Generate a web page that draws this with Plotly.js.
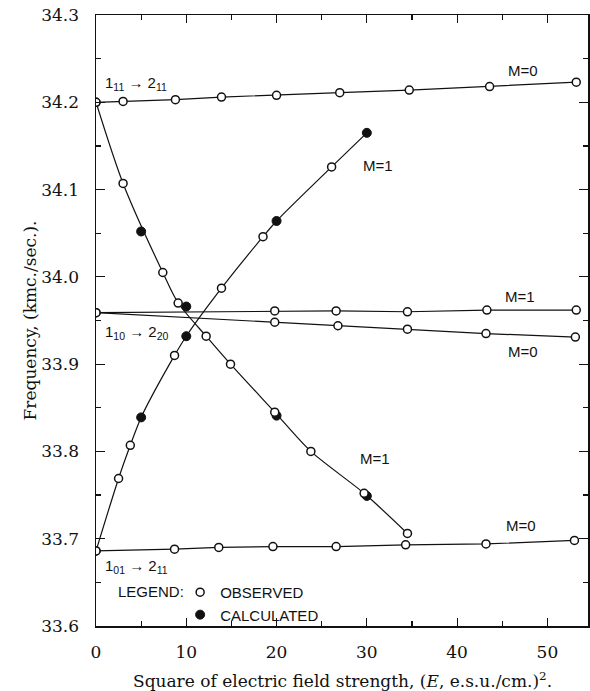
<!DOCTYPE html>
<html>
<head>
<meta charset="utf-8">
<script src="https://cdn.plot.ly/plotly-3.0.1.min.js"></script>
<style>html,body{margin:0;padding:0;background:#fff;}#chart{width:590px;height:691px;}</style>
</head>
<body>
<div id="chart"></div>
<script>
// 1_11 -> 2_11, M=0 (observed)
const topM0X = [0, 3.0, 8.8, 13.9, 20.0, 27.0, 34.7, 43.6, 53.2];
const topM0Y = [34.200, 34.201, 34.203, 34.206, 34.208, 34.211, 34.214, 34.218, 34.223];
// 1_10 -> 2_20, M=1 (observed)
const midM1X = [0, 19.8, 26.6, 34.5, 43.3, 53.2];
const midM1Y = [33.959, 33.961, 33.961, 33.960, 33.962, 33.962];
// 1_10 -> 2_20, M=0 (observed)
const midM0X = [0, 19.8, 26.8, 34.5, 43.2, 53.1];
const midM0Y = [33.959, 33.948, 33.944, 33.940, 33.935, 33.931];
// 1_01 -> 2_11, M=0 (observed)
const botM0X = [0, 8.7, 13.6, 19.6, 26.6, 34.3, 43.2, 53.0];
const botM0Y = [33.686, 33.688, 33.690, 33.691, 33.691, 33.693, 33.694, 33.698];
// descending M=1 curve
const descObsX = [0, 3.0, 7.4, 9.1, 12.2, 14.9, 19.8, 23.8, 29.7, 34.5];
const descObsY = [34.200, 34.107, 34.005, 33.970, 33.932, 33.900, 33.845, 33.800, 33.752, 33.706];
const descCalcX = [5, 10, 20, 30];
const descCalcY = [34.052, 33.966, 33.841, 33.749];
// ascending M=1 curve
const ascObsX = [0, 2.5, 3.8, 8.7, 13.9, 18.5, 26.1];
const ascObsY = [33.686, 33.769, 33.807, 33.910, 33.987, 34.046, 34.126];
const ascCalcX = [5, 10, 20, 30];
const ascCalcY = [33.839, 33.932, 34.064, 34.165];

// ascending line passes through observed and calculated points
const ascLine = ascObsX.map((x, i) => [x, ascObsY[i]])
  .concat(ascCalcX.map((x, i) => [x, ascCalcY[i]]))
  .sort((a, b) => a[0] - b[0]);

const lineStyle = {color: '#111', width: 1.2};
const openMarker = {symbol: 'circle', size: 8, color: '#fff', line: {color: '#111', width: 1.5}};
const fillMarker = {symbol: 'circle', size: 9, color: '#111', line: {color: '#111', width: 1}};

function lineTrace(x, y, shape) {
  return {x: x, y: y, mode: 'lines', line: Object.assign({shape: shape || 'linear', smoothing: 0.8}, lineStyle),
          showlegend: false, hoverinfo: 'skip'};
}
function obsTrace(x, y, show) {
  return {x: x, y: y, mode: 'markers', marker: openMarker, name: 'OBSERVED', legendgroup: 'obs',
          showlegend: !!show};
}
function calcTrace(x, y, show) {
  return {x: x, y: y, mode: 'markers', marker: fillMarker, name: 'CALCULATED', legendgroup: 'calc',
          showlegend: !!show};
}

const traces = [
  lineTrace(topM0X, topM0Y),
  lineTrace(midM1X, midM1Y),
  lineTrace(midM0X, midM0Y),
  lineTrace(botM0X, botM0Y),
  lineTrace(descObsX, descObsY, 'spline'),
  lineTrace(ascLine.map(p => p[0]), ascLine.map(p => p[1]), 'spline'),
  calcTrace(descCalcX, descCalcY, false),
  calcTrace(ascCalcX, ascCalcY, false),
  obsTrace(topM0X, topM0Y, true),
  obsTrace(midM1X, midM1Y),
  obsTrace(midM0X, midM0Y),
  obsTrace(botM0X, botM0Y),
  obsTrace(descObsX, descObsY),
  obsTrace(ascObsX, ascObsY),
  {x: [null], y: [null], mode: 'markers', marker: fillMarker, name: 'CALCULATED', showlegend: true}
];

const sans = 'Liberation Sans, Arial, sans-serif';
const serif = 'DejaVu Serif, serif';
const labelFont = {family: sans, size: 15, color: '#111'};
function lab(x, y, text, anchor) {
  return {x: x, y: y, xref: 'x', yref: 'y', text: text, showarrow: false, font: labelFont,
          xanchor: anchor || 'center', yanchor: 'middle'};
}
const annotations = [
  lab(0.8, 34.222, '1<sub>11</sub> → 2<sub>11</sub>', 'left'),
  lab(47.3, 34.236, 'M=0'),
  lab(29.3, 34.128, 'M=1', 'left'),
  lab(47.0, 33.978, 'M=1'),
  lab(47.3, 33.915, 'M=0'),
  lab(0.8, 33.936, '1<sub>10</sub> → 2<sub>20</sub>', 'left'),
  lab(29.0, 33.792, 'M=1', 'left'),
  lab(47.1, 33.715, 'M=0'),
  lab(0.8, 33.668, '1<sub>01</sub> → 2<sub>11</sub>', 'left'),
  {x: 0.04, y: 0.057, xref: 'paper', yref: 'paper', text: 'LEGEND:', showarrow: false,
   font: {family: sans, size: 15, color: '#111'}, xanchor: 'left', yanchor: 'middle'},
  {x: 0.5, y: -0.0884, xref: 'paper', yref: 'paper', showarrow: false, xanchor: 'center', yanchor: 'middle',
   text: 'Square of electric field strength, (<i>E</i>, e.s.u./cm.)<sup>2</sup>.',
   font: {family: serif, size: 17, color: '#111'}}
];

const layout = {
  width: 590, height: 691,
  margin: {l: 96, r: 2, t: 15, b: 65},
  paper_bgcolor: '#fff', plot_bgcolor: '#fff',
  font: {family: serif, size: 17, color: '#111'},
  xaxis: {
    range: [0, 54.5], tickvals: [0, 10, 20, 30, 40, 50], ticks: 'inside', ticklen: 8, tickwidth: 1.2,
    tickcolor: '#111', showline: true, linecolor: '#111', linewidth: 1.5, mirror: 'ticks',
    showgrid: false, zeroline: false, ticklabelstandoff: 10,
    minor: {dtick: 5, tick0: 0, ticks: 'inside', ticklen: 5, tickcolor: '#111', showgrid: false}
  },
  yaxis: {
    range: [33.6, 34.3], dtick: 0.1, tick0: 33.6, tickformat: '.1f', ticks: 'inside', ticklen: 9,
    tickwidth: 1.2, tickcolor: '#111', showline: true, linecolor: '#111', linewidth: 1.5, mirror: 'ticks',
    showgrid: false, zeroline: false, ticklabelstandoff: 12,
    minor: {dtick: 0.05, tick0: 33.6, ticks: 'inside', ticklen: 5, tickcolor: '#111', showgrid: false},
    title: {text: 'Frequency, (kmc./sec.).', font: {family: serif, size: 17}, standoff: 0}
  },
  showlegend: true,
  legend: {
    x: 0.171, y: 0.082, xanchor: 'left', yanchor: 'top', bgcolor: 'rgba(0,0,0,0)',
    font: {family: sans, size: 15, color: '#111'},
    itemwidth: 30, tracegroupgap: 0, traceorder: 'normal'
  },
  annotations: annotations
};

Plotly.newPlot('chart', traces, layout, {displayModeBar: false, staticPlot: true});
</script>
</body>
</html>
